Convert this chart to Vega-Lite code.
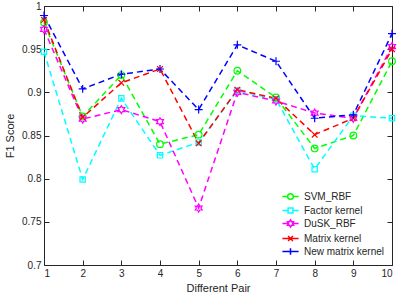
{
  "$schema": "https://vega.github.io/schema/vega-lite/v6.json",
  "width": 348,
  "height": 259,
  "autosize": "none",
  "padding": {"left": 44, "top": 6, "right": 7, "bottom": 34},
  "config": {
    "font": "Liberation Sans",
    "view": {"stroke": "#262626", "strokeWidth": 1},
    "axis": {"labelColor": "#262626", "titleColor": "#262626", "labelFontSize": 10, "titleFontSize": 11, "titleFontWeight": "normal", "domain": false, "tickColor": "#262626", "grid": false},
    "legend": {"labelFontSize": 10, "labelColor": "#262626"}
  },
  "data": {"values": [
    {"series": "SVM_RBF", "pair": 1, "score": 0.981}, {"series": "SVM_RBF", "pair": 2, "score": 0.872}, {"series": "SVM_RBF", "pair": 3, "score": 0.920}, {"series": "SVM_RBF", "pair": 4, "score": 0.840}, {"series": "SVM_RBF", "pair": 5, "score": 0.851}, {"series": "SVM_RBF", "pair": 6, "score": 0.925}, {"series": "SVM_RBF", "pair": 7, "score": 0.894}, {"series": "SVM_RBF", "pair": 8, "score": 0.835}, {"series": "SVM_RBF", "pair": 9, "score": 0.850}, {"series": "SVM_RBF", "pair": 10, "score": 0.936},
    {"series": "Factor kernel", "pair": 1, "score": 0.947}, {"series": "Factor kernel", "pair": 2, "score": 0.799}, {"series": "Factor kernel", "pair": 3, "score": 0.893}, {"series": "Factor kernel", "pair": 4, "score": 0.827}, {"series": "Factor kernel", "pair": 5, "score": 0.842}, {"series": "Factor kernel", "pair": 6, "score": 0.902}, {"series": "Factor kernel", "pair": 7, "score": 0.892}, {"series": "Factor kernel", "pair": 8, "score": 0.811}, {"series": "Factor kernel", "pair": 9, "score": 0.873}, {"series": "Factor kernel", "pair": 10, "score": 0.870},
    {"series": "DuSK_RBF", "pair": 1, "score": 0.973}, {"series": "DuSK_RBF", "pair": 2, "score": 0.869}, {"series": "DuSK_RBF", "pair": 3, "score": 0.880}, {"series": "DuSK_RBF", "pair": 4, "score": 0.866}, {"series": "DuSK_RBF", "pair": 5, "score": 0.766}, {"series": "DuSK_RBF", "pair": 6, "score": 0.900}, {"series": "DuSK_RBF", "pair": 7, "score": 0.890}, {"series": "DuSK_RBF", "pair": 8, "score": 0.876}, {"series": "DuSK_RBF", "pair": 9, "score": 0.870}, {"series": "DuSK_RBF", "pair": 10, "score": 0.953},
    {"series": "Matrix kernel", "pair": 1, "score": 0.984}, {"series": "Matrix kernel", "pair": 2, "score": 0.871}, {"series": "Matrix kernel", "pair": 3, "score": 0.911}, {"series": "Matrix kernel", "pair": 4, "score": 0.927}, {"series": "Matrix kernel", "pair": 5, "score": 0.841}, {"series": "Matrix kernel", "pair": 6, "score": 0.903}, {"series": "Matrix kernel", "pair": 7, "score": 0.893}, {"series": "Matrix kernel", "pair": 8, "score": 0.851}, {"series": "Matrix kernel", "pair": 9, "score": 0.870}, {"series": "Matrix kernel", "pair": 10, "score": 0.950},
    {"series": "New matrix kernel", "pair": 1, "score": 0.989}, {"series": "New matrix kernel", "pair": 2, "score": 0.904}, {"series": "New matrix kernel", "pair": 3, "score": 0.921}, {"series": "New matrix kernel", "pair": 4, "score": 0.927}, {"series": "New matrix kernel", "pair": 5, "score": 0.880}, {"series": "New matrix kernel", "pair": 6, "score": 0.955}, {"series": "New matrix kernel", "pair": 7, "score": 0.936}, {"series": "New matrix kernel", "pair": 8, "score": 0.870}, {"series": "New matrix kernel", "pair": 9, "score": 0.874}, {"series": "New matrix kernel", "pair": 10, "score": 0.968}
  ]},
  "layer": [
    {
      "mark": {"type": "line", "strokeDash": [6, 4], "strokeWidth": 1.5},
      "encoding": {
        "x": {"field": "pair", "type": "quantitative", "scale": {"domain": [1, 10], "nice": false, "zero": false}, "axis": {"orient": "bottom", "title": "Different Pair", "values": [1,2,3,4,5,6,7,8,9,10], "tickSize": -5, "labelPadding": 8, "titlePadding": 4}},
        "y": {"field": "score", "type": "quantitative", "scale": {"domain": [0.7, 1], "nice": false, "zero": false}, "axis": {"orient": "left", "title": "F1 Score", "values": [0.7,0.75,0.8,0.85,0.9,0.95,1], "format": ".2~f", "tickSize": -5, "labelPadding": 8, "titlePadding": 6}},
        "color": {"field": "series", "type": "nominal", "scale": {"domain": ["SVM_RBF", "Factor kernel", "DuSK_RBF", "Matrix kernel", "New matrix kernel"], "range": ["#00ff00", "#00ffff", "#ff00ff", "#ff0000", "#0000ff"]}, "legend": null}
      }
    },
    {
      "mark": {"type": "point", "filled": false, "size": 44, "strokeWidth": 1.2, "opacity": 1},
      "encoding": {
        "x": {"field": "pair", "type": "quantitative", "axis": {"orient": "top", "labels": false, "title": null, "values": [1,2,3,4,5,6,7,8,9,10], "tickSize": -5}},
        "y": {"field": "score", "type": "quantitative", "axis": {"orient": "right", "labels": false, "title": null, "values": [0.7,0.75,0.8,0.85,0.9,0.95,1], "tickSize": -5}},
        "color": {"field": "series", "type": "nominal", "legend": null},
        "shape": {"field": "series", "type": "nominal", "scale": {"domain": ["SVM_RBF", "Factor kernel", "DuSK_RBF", "Matrix kernel", "New matrix kernel"], "range": ["circle", "M-0.8,-0.8L0.8,-0.8L0.8,0.8L-0.8,0.8Z", "M0,-1.2L0.35,-0.6L1.04,-0.6L0.69,0L1.04,0.6L0.35,0.6L0,1.2L-0.35,0.6L-1.04,0.6L-0.69,0L-1.04,-0.6L-0.35,-0.6Z", "M-0.85,-0.85L0.85,0.85M-0.85,0.85L0.85,-0.85", "M-1.2,0L1.2,0M0,-1.2L0,1.2"]}, "legend": null}
      }
    },
    {
      "transform": [{"filter": "false"}],
      "mark": {"type": "point", "filled": false, "strokeWidth": 1.5},
      "encoding": {
        "x": {"field": "pair", "type": "quantitative", "axis": null},
        "y": {"field": "score", "type": "quantitative", "axis": null},
        "color": {"field": "series", "type": "nominal", "legend": {"title": null, "orient": "bottom-right", "offset": 7, "symbolSize": 182, "symbolStrokeWidth": 1.5, "rowPadding": 0, "labelOffset": 6, "symbolOpacity": 1}},
        "shape": {"field": "series", "type": "nominal", "scale": {"domain": ["SVM_RBF", "Factor kernel", "DuSK_RBF", "Matrix kernel", "New matrix kernel"], "range": [
          "M-1.2,0L-0.42,0M0.42,0L1.2,0M-0.42,0A0.42,0.42 0 1 1 0.42,0A0.42,0.42 0 1 1 -0.42,0",
          "M-1.2,0L-0.36,0M0.36,0L1.2,0M-0.36,-0.36L0.36,-0.36L0.36,0.36L-0.36,0.36Z",
          "M-1.2,0L-0.3,0M0.3,0L1.2,0M0,-0.52L0.15,-0.26L0.45,-0.26L0.3,0L0.45,0.26L0.15,0.26L0,0.52L-0.15,0.26L-0.45,0.26L-0.3,0L-0.45,-0.26L-0.15,-0.26Z",
          "M-1.2,0L1.2,0M-0.36,-0.36L0.36,0.36M-0.36,0.36L0.36,-0.36",
          "M-1.2,0L1.2,0M0,-0.48L0,0.48"
        ]}, "legend": {"title": null, "orient": "bottom-right", "offset": 7, "symbolSize": 182, "symbolStrokeWidth": 1.5, "rowPadding": 0, "labelOffset": 6, "symbolOpacity": 1}}
      }
    }
  ],
  "resolve": {
    "scale": {"shape": "independent"},
    "axis": {"x": "independent", "y": "independent"},
    "legend": {"color": "independent", "shape": "independent"}
  }
}
